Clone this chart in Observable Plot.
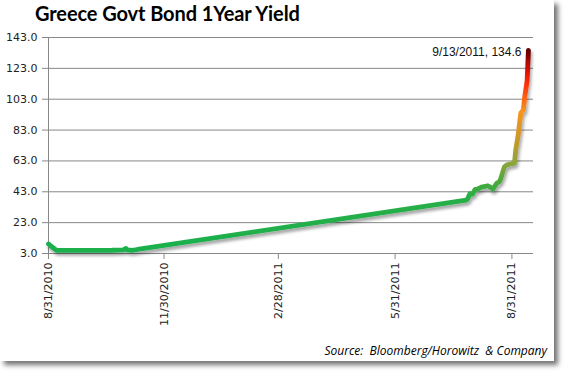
<!DOCTYPE html>
<html>
<head>
<meta charset="utf-8">
<script src="https://cdn.jsdelivr.net/npm/d3@7"></script>
<script src="https://cdn.jsdelivr.net/npm/@observablehq/plot@0.6"></script>
<style>
  html, body { margin: 0; padding: 0; background: #fff; }
  #wrap { position: relative; width: 567px; height: 374px; overflow: hidden; background: #fff; }
  #card { position: absolute; left: 0; top: 0; width: 554px; height: 361px; background: #fff;
          box-shadow: 4px 4px 5px rgba(0,0,0,0.55); }
  #title { position: absolute; left: 35px; top: 1px; font-family: Lato, "Open Sans", sans-serif;
           font-weight: bold; font-size: 20px; color: #000; white-space: nowrap; letter-spacing: -0.1px; }
  #source { position: absolute; right: 20px; top: 342px; font-family: "Open Sans", sans-serif;
            font-style: italic; font-size: 12px; color: #000; white-space: nowrap; }
  #chart { position: absolute; left: 0; top: 0; }
</style>
</head>
<body>
<div id="wrap">
  <div id="card"></div>
  <div id="chart"></div>
  <div id="title">Greece Govt Bond 1Year Yield</div>
  <div id="source">Source:&nbsp; Bloomberg/Horowitz&nbsp; &amp; Company</div>
</div>
<script>
// ---- data ----
const dates = [
  "2010-08-31","2010-09-01","2010-09-06","2010-09-07","2010-09-15","2010-10-01","2010-10-20",
  "2010-10-29","2010-10-31","2010-11-01","2010-11-05","2010-11-09",
  "2011-07-26","2011-07-27","2011-07-29","2011-07-31","2011-08-02","2011-08-04","2011-08-07",
  "2011-08-12","2011-08-14","2011-08-16","2011-08-19","2011-08-21","2011-08-22","2011-08-25",
  "2011-08-27","2011-08-31","2011-09-02","2011-09-03","2011-09-05","2011-09-07","2011-09-09",
  "2011-09-10","2011-09-12","2011-09-13"
];
const yields = [
  9.2, 8.5, 5.2, 5.0, 5.0, 5.0, 5.1,
  5.4, 6.3, 5.4, 5.0, 5.6,
  37.6, 38.3, 41.8, 41.5, 44.5, 44.8, 46.0,
  46.9, 46.0, 44.8, 48.5, 49.5, 51.0, 59.0,
  60.5, 61.2, 61.5, 70.0, 80.0, 94.0, 96.0,
  104.0, 115.0, 134.6
];
const yTicks = [3, 23, 43, 63, 83, 103, 123, 143];
const xTickDates = ["2010-08-31","2010-11-30","2011-02-28","2011-05-31","2011-08-31"];
const xDomain = ["2010-08-31","2011-09-17"];
const gradStops = [[3,"#1bb04e"],[40,"#28ae47"],[50,"#4da93b"],[62,"#8fa43a"],[80,"#d4962a"],
                   [95,"#f7951c"],[108,"#ff4a10"],[120,"#ee1000"],[135,"#5c0000"]];

const parse = d3.utcParse("%Y-%m-%d");
const data = dates.map((d, i) => ({date: parse(d), value: yields[i]}));
const last = data[data.length - 1];
const fmtDate = d => `${d.getUTCMonth() + 1}/${d.getUTCDate()}/${d.getUTCFullYear()}`;

const plot = Plot.plot({
  width: 567,
  height: 374,
  marginLeft: 48,
  marginRight: 34,
  marginTop: 37,
  marginBottom: 121,
  style: {background: "transparent", fontFamily: "DejaVu Sans, sans-serif", fontSize: "11px", color: "#222"},
  x: {type: "utc", domain: xDomain.map(parse)},
  y: {domain: [3, 143]},
  marks: [
    Plot.ruleY(yTicks, {stroke: "#888", strokeWidth: 1}),
    Plot.ruleX([parse(xDomain[0])], {stroke: "#888", strokeWidth: 1}),
    Plot.axisY({ticks: yTicks, tickFormat: d => d.toFixed(1), tickSize: 6, stroke: "#888",
                tickPadding: 5, label: null, fill: "#222"}),
    Plot.axisX({ticks: xTickDates.map(parse), tickFormat: fmtDate, tickRotate: -90, tickSize: 6,
                stroke: "#888", tickPadding: 3, label: null, fill: "#222"}),
    Plot.line(data, {x: "date", y: "value", stroke: "url(#yieldGrad)", strokeWidth: 4.8,
                     strokeLinejoin: "round", strokeLinecap: "round", curve: "linear",
                     className: "yield-line"}),
    Plot.text([last], {x: "date", y: "value", text: d => `${fmtDate(d.date)}, ${d.value.toFixed(1)}`,
                       textAnchor: "end", dx: -7, dy: 2, fontFamily: "Liberation Sans, sans-serif",
                       fontSize: 12, fill: "#111"})
  ]
});

// gradient (vertical, tied to the y scale) and drop shadow for the line
const ys = plot.scale("y");
const y0 = ys.apply(3), y1 = ys.apply(135);
const svg = d3.select(plot);
const defs = svg.insert("defs", ":first-child");
const grad = defs.append("linearGradient").attr("id", "yieldGrad")
  .attr("gradientUnits", "userSpaceOnUse").attr("x1", 0).attr("x2", 0).attr("y1", y0).attr("y2", y1);
gradStops.forEach(([v, c]) => grad.append("stop").attr("offset", (v - 3) / (135 - 3)).attr("stop-color", c));
const f = defs.append("filter").attr("id", "lineShadow").attr("x", "-10%").attr("y", "-10%")
  .attr("width", "130%").attr("height", "130%");
f.append("feDropShadow").attr("dx", 1.5).attr("dy", 3).attr("stdDeviation", 1.5)
  .attr("flood-color", "#000").attr("flood-opacity", 0.35);
svg.selectAll("g.yield-line").attr("filter", "url(#lineShadow)");

document.getElementById("chart").appendChild(plot);
</script>
</body>
</html>
